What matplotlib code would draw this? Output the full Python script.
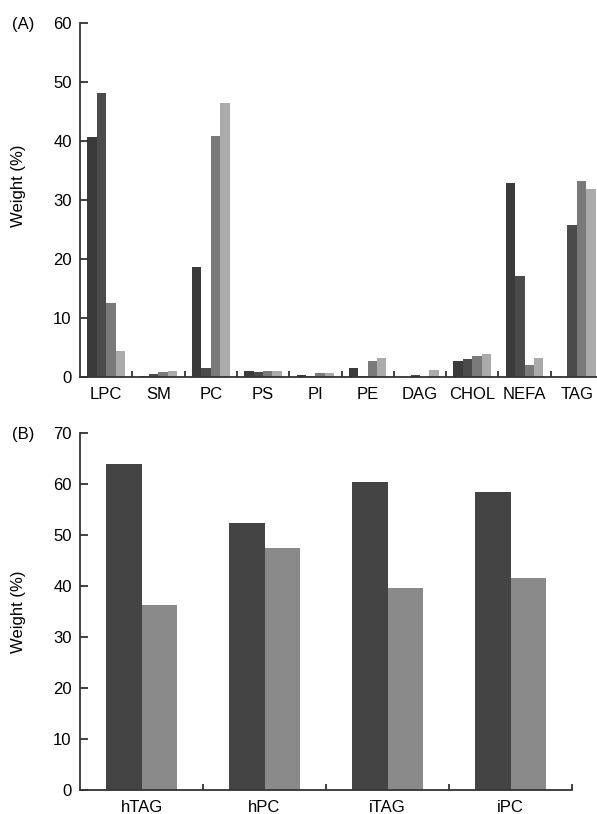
import matplotlib as mpl
import matplotlib.pyplot as plt
import numpy as np

mpl.rcParams.update({"font.family": ["Liberation Sans", "DejaVu Sans"], "font.size": 12})

# panel A: lipid classes, four series
lipids = ["LPC", "SM", "PC", "PS", "PI", "PE", "DAG", "CHOL", "NEFA", "TAG"]
series_1 = [40.6, 0.2, 18.7, 1.1, 0.35, 1.6, 0.0, 2.7, 32.9, 0.0]
series_2 = [48.1, 0.45, 1.6, 0.9, 0.15, 0.1, 0.3, 3.05, 17.1, 25.8]
series_3 = [12.6, 0.85, 40.8, 1.1, 0.6, 2.7, 0.0, 3.55, 2.0, 33.3]
series_4 = [4.4, 1.0, 46.4, 1.1, 0.7, 3.3, 1.2, 3.9, 3.2, 31.9]
colors_a = ["#3a3a3a", "#4b4b4b", "#7a7a7a", "#ababab"]

# panel B: fractions
fractions = ["hTAG", "hPC", "iTAG", "iPC"]
dark_b = [64.0, 52.4, 60.3, 58.5]
grey_b = [36.2, 47.4, 39.7, 41.5]
colors_b = ["#444444", "#8a8a8a"]

AX_COL = "#333333"


def style(ax, ymax, n):
    for s in ["top", "right"]:
        ax.spines[s].set_visible(False)
    for s in ["left", "bottom"]:
        ax.spines[s].set_color(AX_COL)
        ax.spines[s].set_linewidth(1.3)
    ax.set_ylim(0, ymax)
    ax.set_yticks(np.arange(0, ymax + 1, 10))
    ax.tick_params(axis="y", direction="in", length=6, width=1.3, color=AX_COL, pad=6)
    ax.set_xlim(-0.5, n - 0.5)
    ax.set_xticks(np.arange(n))
    ax.set_xticklabels([])
    ax.tick_params(axis="x", which="major", length=0, pad=7)
    ax.set_xticks(np.arange(n) + 0.5, minor=True)
    ax.tick_params(axis="x", which="minor", direction="in", length=4, width=1.3, color=AX_COL)


fig = plt.figure(figsize=(5.97, 8.14), dpi=100)

ax1 = fig.add_axes([80 / 597, 1 - 377 / 814, 523 / 597, 354 / 814])
x = np.arange(len(lipids))
w = 0.18
for i, vals in enumerate([series_1, series_2, series_3, series_4]):
    ax1.bar(x + (i - 1.5) * w, vals, w, color=colors_a[i], linewidth=0)
style(ax1, 60, len(lipids))
ax1.set_xticklabels(lipids)
ax1.set_ylabel("Weight (%)")
ax1.yaxis.set_label_coords(-0.103, 0.54)

ax2 = fig.add_axes([80 / 597, 1 - 790 / 814, 492 / 597, 357 / 814])
xb = np.arange(len(fractions))
wb = 0.285
ax2.bar(xb - wb / 2, dark_b, wb, color=colors_b[0], linewidth=0)
ax2.bar(xb + wb / 2, grey_b, wb, color=colors_b[1], linewidth=0)
style(ax2, 70, len(fractions))
ax2.set_xticklabels(fractions)
ax2.set_ylabel("Weight (%)")
ax2.yaxis.set_label_coords(-0.11, 0.5)

fig.text(12 / 597, 1 - 25 / 814, "(A)", va="center", ha="left")
fig.text(12 / 597, 1 - 434 / 814, "(B)", va="center", ha="left")

fig.savefig("out.png", dpi=100)
